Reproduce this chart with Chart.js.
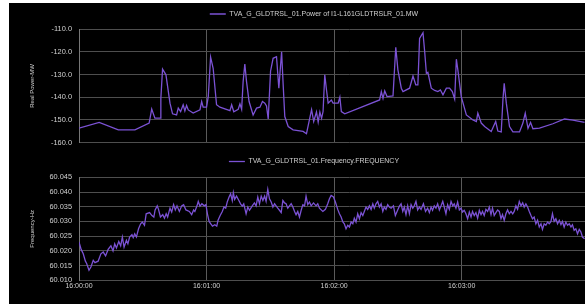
<!DOCTYPE html>
<html>
<head>
<meta charset="utf-8">
<script src="https://cdn.jsdelivr.net/npm/chart.js@4/dist/chart.umd.min.js"></script>
<style>
  body { margin: 0; background: #fff; overflow: hidden; width: 585px; height: 304px; }
  #panel { position: absolute; left: 9px; top: 3px; width: 576px; height: 301px; background: #000; overflow: hidden; }
  #panel canvas { position: absolute; left: 0; }
  #powerChart { top: -4px; }
  #freqChart { top: 142px; }
</style>
</head>
<body>
<div id="panel">
  <canvas id="powerChart" width="610" height="155"></canvas>
  <canvas id="freqChart" width="610" height="158"></canvas>
</div>
<script>
// seconds after 16:00:00
let powerTimes = [0, 9.5, 18.5, 26.3, 33.0, 34.2, 35.7, 38.1, 38.5, 39.3, 40.9, 42.8, 44.0, 45.9, 46.7, 47.8, 49.0, 49.8, 50.6, 51.4,
  53.7, 56.9, 57.7, 58.4, 60.0, 60.8, 61.9, 63.1, 64.7, 66.3, 71.0, 71.8, 72.8, 74.9, 75.7, 76.5, 77.2, 78.0, 78.8, 80.0,
  81.9, 83.5, 85.1, 86.3, 87.4, 88.2, 89.0, 90.1, 91.3, 92.9, 94.0, 95.3, 96.0, 96.8, 98.4, 100.7, 105.4, 107.0, 109.4, 110.4,
  111.7, 112.5, 113.3, 114.1, 114.8, 115.6, 116.4, 117.2, 118.7, 119.5, 121.9, 122.7, 123.4, 125.0, 141.4, 142.2, 143.0, 143.8, 144.9, 147.7,
  149.0, 150.0, 151.6, 152.4, 155.5, 157.1, 158.4, 159.4, 160.2, 161.8, 162.6, 163.4, 164.1, 165.7, 167.3, 168.8, 170.0, 171.2, 172.8, 174.3,
  175.6, 176.7, 177.5, 178.2, 179.8, 182.2, 185.3, 186.9, 187.6, 189.2, 190.8, 193.9, 196.0, 197.0, 198.6, 199.4, 200.0, 201.0, 202.5, 204.1,
  207.2, 208.8, 209.9, 211.2, 212.4, 213.5, 216.6, 222.9, 228.4, 232.3, 237.8];
let powerValues = [-153.6, -151.1, -154.4, -154.4, -151.4, -145.2, -149.2, -149.2, -140.4, -127.6, -130.1, -142.6, -147.3, -147.8, -144.8, -146.3, -143.3, -146.0, -143.6, -145.6,
  -147.0, -145.5, -141.9, -144.4, -144.4, -139.7, -122.3, -127.2, -143.3, -144.4, -145.9, -143.3, -146.4, -145.3, -142.9, -145.3, -133.1, -125.3, -133.1, -141.9,
  -147.8, -144.8, -144.4, -141.9, -142.6, -143.8, -149.6, -128.5, -122.8, -122.1, -136.0, -119.9, -133.8, -148.5, -152.9, -154.4, -155.1, -156.1, -145.5, -150.7,
  -146.5, -151.0, -146.5, -149.3, -146.3, -130.1, -136.7, -142.6, -141.2, -142.6, -142.6, -140.0, -146.3, -147.3, -141.2, -137.5, -140.5, -137.2, -139.7, -139.4,
  -117.9, -127.9, -136.0, -137.5, -136.0, -130.6, -134.5, -134.5, -114.0, -111.5, -119.9, -129.4, -129.0, -136.0, -137.0, -137.5, -136.8, -138.9, -136.0, -136.0,
  -137.5, -140.8, -123.2, -127.9, -139.7, -147.8, -150.0, -150.7, -147.0, -151.4, -152.9, -155.1, -150.7, -154.9, -155.3, -141.2, -133.8, -142.6, -152.9, -155.3,
  -155.3, -151.4, -147.0, -153.7, -151.1, -153.9, -153.6, -151.7, -149.6, -150.1, -151.1];

let freqTimes = [0, 1.0, 2.0, 3.0, 3.6, 4.7, 5.6, 6.7, 7.5, 9.0, 10.3, 11.4, 12.5, 13.7, 15.0, 16.0, 16.8, 17.6, 18.7, 19.6,
  20.4, 21.2, 22.3, 23.0, 23.8, 24.9, 25.5, 26.2, 27.0, 28.0, 29.0, 29.8, 30.8, 31.6, 33.2, 34.3, 35.2, 35.8, 36.8, 37.4,
  38.3, 39.4, 40.2, 41.0, 41.7, 42.8, 43.6, 44.5, 45.3, 46.1, 47.2, 48.3, 49.2, 50.3, 51.9, 53.0, 53.9, 54.5, 55.5, 56.1,
  56.9, 57.8, 58.9, 59.7, 60.4, 61.2, 62.0, 62.8, 63.9, 64.8, 65.4, 66.4, 67.4, 68.2, 69.0, 69.8, 70.6, 71.3, 72.1, 72.6,
  73.2, 74.1, 75.2, 76.0, 76.8, 77.5, 78.6, 79.4, 80.2, 81.5, 82.5, 83.3, 84.1, 84.9, 85.7, 86.5, 87.3, 88.0, 88.8, 89.6,
  90.4, 91.2, 92.0, 92.7, 93.5, 94.3, 95.1, 95.9, 96.7, 97.4, 98.2, 99.0, 99.8, 100.6, 101.4, 102.1, 102.9, 103.7, 104.5, 105.3,
  106.1, 106.8, 107.6, 108.4, 109.2, 110.3, 111.5, 112.3, 113.1, 114.7, 115.9, 117.0, 117.8, 118.6, 119.7, 120.6, 121.7, 122.5, 123.3, 124.1,
  124.8, 125.6, 126.4, 127.2, 128.0, 128.8, 129.5, 130.3, 131.1, 131.9, 132.7, 133.5, 134.2, 135.0, 135.8, 136.6, 137.4, 138.2, 138.9, 139.7,
  140.5, 141.3, 142.1, 142.9, 143.6, 144.4, 145.2, 146.0, 146.8, 147.9, 148.8, 149.9, 150.7, 151.5, 152.3, 153.0, 153.8, 154.6, 155.4, 156.2,
  157.0, 157.7, 158.5, 159.3, 160.1, 160.9, 162.0, 163.0, 164.0, 164.8, 165.6, 166.3, 167.1, 167.9, 168.7, 169.5, 170.3, 171.1, 171.8, 172.6,
  173.4, 174.2, 175.0, 175.8, 176.5, 177.3, 178.1, 178.9, 179.7, 180.4, 181.2, 182.0, 182.8, 183.6, 184.4, 185.1, 185.9, 186.7, 187.5, 188.3,
  189.1, 189.8, 190.6, 191.4, 192.2, 193.0, 193.8, 194.5, 195.3, 196.1, 196.9, 197.7, 198.5, 199.2, 200.0, 200.8, 201.6, 202.4, 203.2, 204.0,
  204.7, 205.5, 206.3, 207.1, 207.9, 208.7, 209.4, 210.2, 211.0, 211.8, 212.6, 213.3, 214.1, 214.9, 215.7, 216.5, 217.3, 218.0, 218.8, 219.6,
  220.4, 221.2, 222.0, 222.7, 223.5, 224.3, 225.1, 225.9, 226.7, 227.4, 228.2, 229.0, 229.8, 230.6, 231.4, 232.1, 232.9, 233.7, 234.5, 235.3,
  236.1, 236.8, 237.8];
let freqValues = [60.0230, 60.0205, 60.0190, 60.0165, 60.0157, 60.0134, 60.0145, 60.0168, 60.0160, 60.0165, 60.0190, 60.0196, 60.0183, 60.0205, 60.0217, 60.0200, 60.0224, 60.0210, 60.0232, 60.0217,
  60.0247, 60.0213, 60.0236, 60.0224, 60.0247, 60.0255, 60.0245, 60.0258, 60.0247, 60.0275, 60.0292, 60.0298, 60.0287, 60.0326, 60.0330, 60.0320, 60.0315, 60.0339, 60.0353, 60.0341,
  60.0315, 60.0323, 60.0311, 60.0326, 60.0315, 60.0345, 60.0332, 60.0357, 60.0339, 60.0353, 60.0334, 60.0353, 60.0357, 60.0339, 60.0334, 60.0323, 60.0339, 60.0334, 60.0353, 60.0368,
  60.0352, 60.0360, 60.0353, 60.0357, 60.0326, 60.0300, 60.0292, 60.0284, 60.0289, 60.0284, 60.0304, 60.0320, 60.0334, 60.0349, 60.0345, 60.0368, 60.0383, 60.0394, 60.0371, 60.0398,
  60.0375, 60.0386, 60.0371, 60.0360, 60.0352, 60.0360, 60.0326, 60.0349, 60.0338, 60.0353, 60.0363, 60.0353, 60.0383, 60.0360, 60.0386, 60.0371, 60.0386, 60.0368, 60.0409, 60.0377,
  60.0366, 60.0349, 60.0360, 60.0353, 60.0345, 60.0338, 60.0330, 60.0371, 60.0363, 60.0360, 60.0345, 60.0353, 60.0360, 60.0349, 60.0334, 60.0323, 60.0334, 60.0315, 60.0338, 60.0357,
  60.0353, 60.0386, 60.0357, 60.0366, 60.0353, 60.0363, 60.0353, 60.0360, 60.0345, 60.0334, 60.0341, 60.0360, 60.0377, 60.0388, 60.0383, 60.0366, 60.0341, 60.0326, 60.0315, 60.0298,
  60.0292, 60.0275, 60.0287, 60.0281, 60.0298, 60.0292, 60.0311, 60.0298, 60.0326, 60.0309, 60.0330, 60.0320, 60.0334, 60.0349, 60.0341, 60.0353, 60.0341, 60.0360, 60.0345, 60.0360,
  60.0368, 60.0349, 60.0360, 60.0334, 60.0349, 60.0341, 60.0357, 60.0349, 60.0345, 60.0353, 60.0320, 60.0339, 60.0352, 60.0360, 60.0334, 60.0349, 60.0323, 60.0353, 60.0326, 60.0357,
  60.0345, 60.0353, 60.0368, 60.0339, 60.0349, 60.0341, 60.0360, 60.0334, 60.0345, 60.0330, 60.0349, 60.0338, 60.0353, 60.0345, 60.0360, 60.0339, 60.0353, 60.0368, 60.0349, 60.0326,
  60.0357, 60.0341, 60.0368, 60.0353, 60.0360, 60.0345, 60.0366, 60.0339, 60.0345, 60.0332, 60.0338, 60.0326, 60.0309, 60.0332, 60.0315, 60.0334, 60.0320, 60.0330, 60.0311, 60.0338,
  60.0323, 60.0334, 60.0320, 60.0341, 60.0334, 60.0349, 60.0323, 60.0345, 60.0320, 60.0330, 60.0339, 60.0334, 60.0309, 60.0323, 60.0304, 60.0326, 60.0339, 60.0326, 60.0334, 60.0326,
  60.0334, 60.0353, 60.0341, 60.0368, 60.0353, 60.0363, 60.0349, 60.0360, 60.0349, 60.0334, 60.0320, 60.0309, 60.0315, 60.0292, 60.0304, 60.0281, 60.0292, 60.0273, 60.0292, 60.0287,
  60.0298, 60.0292, 60.0300, 60.0326, 60.0300, 60.0309, 60.0292, 60.0304, 60.0289, 60.0300, 60.0281, 60.0298, 60.0287, 60.0292, 60.0281, 60.0289, 60.0270, 60.0275, 60.0258, 60.0273,
  60.0264, 60.0247, 60.0241];

let timeTicks = [0, 60, 120, 180];
let timeLabels = ["16:00:00", "16:01:00", "16:02:00", "16:03:00"];

const lineColor = '#7b52d4';
const gridColor = '#4e4e4e';
const textColor = '#d0d0d0';
const font = 'Liberation Sans, Arial, sans-serif';

function points(xs, ys) {
  return xs.map((t, i) => ({ x: t, y: ys[i] }));
}

function makeChart(id, label, xs, ys, yMin, yMax, yStep, digits, yTitle, showTime, legendPad, gap, xHeight) {
  return new Chart(document.getElementById(id), {
    type: 'line',
    data: {
      datasets: [{
        label: label,
        data: points(xs, ys),
        borderColor: lineColor,
        backgroundColor: lineColor,
        borderWidth: 1.3,
        pointRadius: 0,
        tension: 0,
        fill: false
      }]
    },
    options: {
      responsive: false,
      animation: false,
      layout: { padding: 0 },
      plugins: {
        legend: {
          labels: {
            usePointStyle: true,
            pointStyle: 'line',
            pointStyleWidth: 16,
            color: textColor,
            font: { family: font, size: 7 },
            padding: legendPad
          }
        },
        tooltip: { enabled: false }
      },
      scales: {
        x: {
          type: 'linear',
          min: 0,
          max: 254,
          afterBuildTicks: s => { s.ticks = timeTicks.map(v => ({ value: v })); },
          afterFit: s => { s.height = xHeight; },
          ticks: {
            display: showTime,
            color: textColor,
            font: { family: font, size: 7 },
            padding: 2,
            maxRotation: 0,
            callback: v => timeLabels[timeTicks.indexOf(v)]
          },
          grid: { color: '#5a5a5a', drawTicks: false },
          border: { display: false }
        },
        // empty strip between legend and plot
        gapAxis: {
          type: 'linear',
          position: 'top',
          afterFit: s => { s.height = gap; },
          ticks: { display: false },
          grid: { display: false, drawTicks: false },
          border: { display: false }
        },
        y: {
          min: yMin,
          max: yMax,
          afterFit: s => { s.width = 70; },
          ticks: {
            stepSize: yStep,
            color: textColor,
            font: { family: font, size: 7.4 },
            padding: 7,
            callback: v => v.toFixed(digits)
          },
          grid: { color: gridColor, drawTicks: false },
          border: { color: '#777' },
          title: {
            display: true,
            text: yTitle,
            color: textColor,
            font: { family: font, size: 6 },
            padding: { top: 20, bottom: 0 }
          }
        }
      }
    }
  });
}

makeChart('powerChart', 'TVA_G_GLDTRSL_01.Power of I1-L161GLDTRSLR_01.MW',
  powerTimes, powerValues, -160, -110, 10, 1, 'Real Power-MW', false, 11.5, 1.8, 2);
makeChart('freqChart', 'TVA_G_GLDTRSL_01.Frequency.FREQUENCY',
  freqTimes, freqValues, 60.010, 60.045, 0.005, 3, 'Frequency-Hz', true, 13, 2.3, 22.7);
</script>
</body>
</html>
